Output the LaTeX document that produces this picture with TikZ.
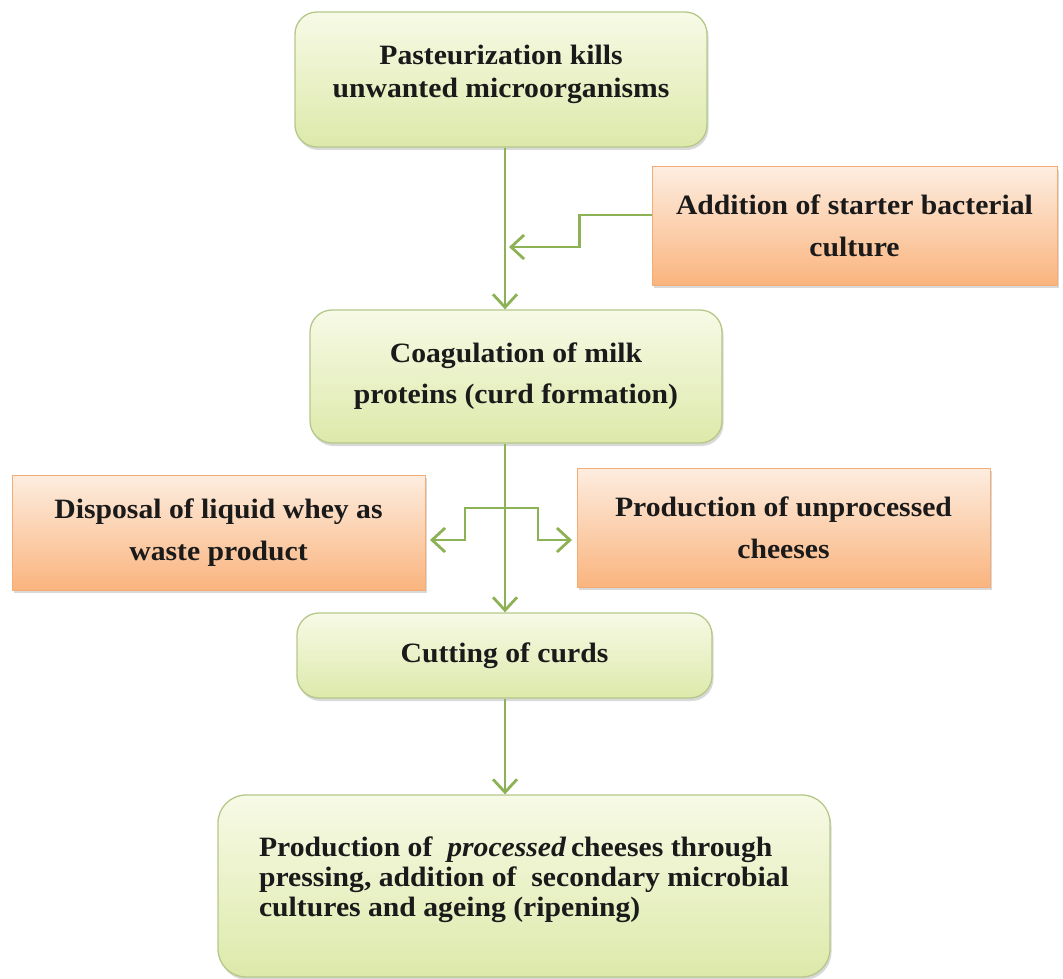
\documentclass[tikz,border=0pt]{standalone}
\usepackage{fontspec}
\setmainfont{Liberation Serif}[FakeStretch=1.06]
\usetikzlibrary{arrows.meta,shadows}
\definecolor{lineG}{HTML}{8DB255}
\definecolor{gTop}{HTML}{F7FAE6}
\definecolor{gBot}{HTML}{DDE9AA}
\definecolor{gBd}{HTML}{B5C88A}
\definecolor{oTop}{HTML}{FDEDE0}
\definecolor{oBot}{HTML}{FAB47E}
\definecolor{oBd}{HTML}{F4AC76}
\definecolor{txt}{HTML}{1A1A1A}
\tikzset{
  gbox/.style={draw=gBd, line width=1.3pt, rounded corners=22pt,
    top color=gTop, bottom color=gBot,
    drop shadow={opacity=0.3, shadow xshift=1.5pt, shadow yshift=-3pt},
    align=center, text=txt, inner sep=0pt},
  obox/.style={draw=oBd, line width=1pt,
    top color=oTop, bottom color=oBot,
    drop shadow={opacity=0.3, shadow xshift=1.5pt, shadow yshift=-3pt},
    align=center, text=txt, inner sep=0pt,
    font=\bfseries\fontsize{28}{42}\selectfont},
  arr/.style={draw=lineG, line width=2.8pt,
    -{Straight Barb[length=13pt,width=24pt]}},
}
\begin{document}
\begin{tikzpicture}[x=1pt,y=-1pt]
\useasboundingbox (0,0) rectangle (1063,979);

\node[gbox, minimum width=412pt, minimum height=135pt] (b1) at (501,79.5) {};
\node[text=txt, align=center, font=\bfseries\fontsize{28}{33}\selectfont] (t1) at (b1.center) [yshift=5pt]
  {Pasteurization kills\\unwanted microorganisms};

\node[obox, minimum width=405pt, minimum height=118pt] (st) at (854.5,226)
  {Addition of starter bacterial\\culture};

\node[gbox, minimum width=412pt, minimum height=133pt,
      font=\bfseries\fontsize{28}{41}\selectfont] (b2) at (516,376.5)
  {Coagulation of milk\\proteins (curd formation)};

\node[obox, minimum width=413pt, minimum height=115pt] (dw) at (218.5,532.5)
  {Disposal of liquid whey as\\waste product};

\node[obox, minimum width=413pt, minimum height=119pt] (pu) at (783.5,527.5)
  {Production of unprocessed\\cheeses};

\node[gbox, minimum width=415pt, minimum height=85pt,
      font=\bfseries\fontsize{28}{33}\selectfont] (b3) at (504.5,655.5)
  {Cutting of curds};

\node[gbox, rounded corners=28pt, minimum width=612pt, minimum height=182pt] (b4) at (524,886) {};
\node[text=txt, align=left, font=\bfseries\fontsize{28}{30}\selectfont] (t4) at (b4.center) [yshift=6pt]
  {Production of\ \ \textit{processed}\,cheeses through\\
   pressing, addition of\ \ secondary microbial\\
   cultures and ageing (ripening)};

\coordinate (sp) at (505,0);
\coordinate (j1) at (509,247);
\coordinate (br) at (505,508);
\coordinate (tl) at (430,540);
\coordinate (tr) at (572,540);

\draw[arr] (b1.south -| sp) -- (b2.north -| sp);
\draw[arr] ([yshift=11pt]st.west) -- ++(-72,0) -- ++(0,32) -- (j1);
\draw[arr] (b2.south -| sp) -- (b3.north -| sp);
\draw[arr] (br) -| (465,540) -- (tl);
\draw[arr] (br) -| (538,540) -- (tr);
\draw[arr] (b3.south -| sp) -- (b4.north -| sp);
\end{tikzpicture}
\end{document}
